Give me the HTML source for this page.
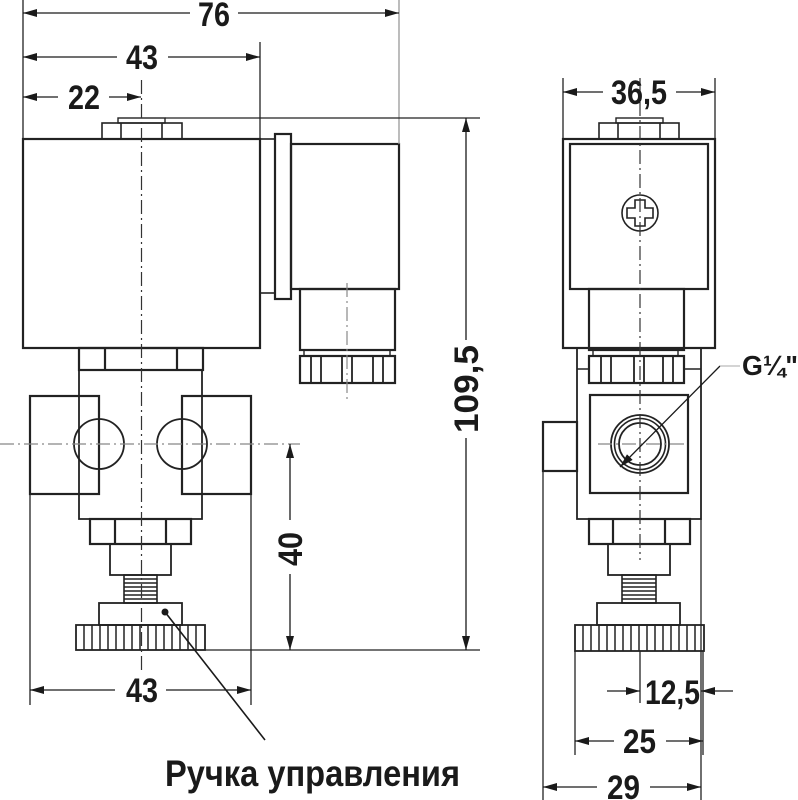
<!DOCTYPE html>
<html><head><meta charset="utf-8"><style>
html,body{margin:0;padding:0;background:#fff}
svg{display:block}
text{font-family:"Liberation Sans Narrow","Liberation Sans",sans-serif;fill:#1a1a1a}
</style></head><body>
<svg width="798" height="800" viewBox="0 0 798 800" xmlns="http://www.w3.org/2000/svg">
<defs>
<marker id="a" viewBox="0 0 14 8" refX="14" refY="4" markerWidth="14" markerHeight="8" markerUnits="userSpaceOnUse" orient="auto-start-reverse">
<path d="M0,0 L14,4 L0,8 z" fill="#1a1a1a"/></marker>
</defs>
<g fill="none" stroke="#222" stroke-width="2.2">
<rect x="23" y="139" width="237" height="209"/>
<rect x="102" y="123" width="80" height="16" stroke-width="1.6"/>
<line x1="121" y1="123" x2="121" y2="139" stroke-width="1.6"/><line x1="162" y1="123" x2="162" y2="139" stroke-width="1.6"/>
<rect x="118" y="118" width="47" height="5" stroke-width="1.4"/>
<rect x="260" y="139" width="15" height="154" stroke-width="1.6"/>
<rect x="275" y="134" width="16" height="165"/>
<rect x="291" y="144" width="108" height="145"/>
<rect x="300" y="289" width="95" height="61"/>
<rect x="304" y="350" width="86" height="6" stroke-width="1.4"/>
<rect x="300" y="356" width="95" height="27"/>
<path d="M311 356V383M321 356V383M342 356V383M352 356V383M373 356V383M383 356V383" stroke-width="1.8"/>
<rect x="79" y="348" width="124" height="22"/>
<path d="M105 348V370M177 348V370"/>
<path d="M79 370V519H202V370" stroke-width="1.8"/>
<rect x="30" y="396" width="69" height="98"/>
<rect x="182" y="396" width="69" height="98"/>
<circle cx="99" cy="444" r="25" stroke-width="1.8"/>
<circle cx="182" cy="444" r="25" stroke-width="1.8"/>
<rect x="90" y="519" width="101" height="25"/>
<path d="M115 519V544M166 519V544"/>
<rect x="110" y="544" width="61" height="31" stroke-width="1.8"/>
<rect x="124" y="575" width="33" height="28" stroke-width="1.6"/>
<path d="M124 579H157M124 583H157M124 587H157M124 591H157M124 595H157M124 599H157" stroke-width="1.4"/>
<rect x="99" y="603" width="83" height="22" stroke-width="1.8"/>
<rect x="76" y="625" width="129" height="25" stroke-width="1.8"/>
<path d="M84 625V650M92 625V650M100 625V650M108 625V650M116 625V650M124 625V650M132 625V650M140 625V650M148 625V650M156 625V650M164 625V650M172 625V650M180 625V650M188 625V650M196 625V650" stroke-width="1.5"/>
<rect x="563" y="139" width="152" height="209"/>
<rect x="570" y="144" width="138" height="145"/>
<rect x="599" y="123" width="80" height="16" stroke-width="1.6"/>
<path d="M618 123V139M660 123V139" stroke-width="1.6"/>
<rect x="616" y="118" width="47" height="5" stroke-width="1.4"/>
<circle cx="640" cy="213" r="18" stroke-width="1.6"/>
<path d="M635 200H645V208H653V218H645V226H635V218H627V208H635Z" stroke-width="1.6"/>
<rect x="589" y="289" width="95" height="61"/>
<rect x="593" y="350" width="85" height="6" stroke-width="1.4"/>
<rect x="589" y="356" width="95" height="27"/>
<path d="M601 356V383M611 356V383M634 356V383M644 356V383M663 356V383M673 356V383" stroke-width="1.8"/>
<path d="M577 348V519H701V348" stroke-width="1.8"/>
<path d="M577 369H589M684 369H701" stroke-width="1.6"/>
<rect x="543" y="422" width="34" height="49"/>
<rect x="590" y="395" width="98" height="98"/>
<circle cx="640" cy="444" r="29" stroke-width="1.8"/>
<circle cx="640" cy="444" r="25.5" stroke-width="1.6"/>
<circle cx="640" cy="444" r="21" stroke-width="1.8"/>
<rect x="589" y="519" width="101" height="25"/>
<path d="M613 519V544M665 519V544"/>
<rect x="608" y="544" width="62" height="31" stroke-width="1.8"/>
<rect x="622" y="575" width="34" height="28" stroke-width="1.6"/>
<path d="M622 579H656M622 583H656M622 587H656M622 591H656M622 595H656M622 599H656" stroke-width="1.4"/>
<rect x="597" y="603" width="83" height="22" stroke-width="1.8"/>
<rect x="575" y="625" width="129" height="26" stroke-width="1.8"/>
<path d="M583 625V651M591 625V651M599 625V651M607 625V651M615 625V651M623 625V651M631 625V651M639 625V651M647 625V651M655 625V651M663 625V651M671 625V651M679 625V651M687 625V651M695 625V651" stroke-width="1.5"/>
</g>
<g stroke="#333" stroke-width="1.2" fill="none" stroke-dasharray="14,4,2,4">
<line x1="141.5" y1="80" x2="141.5" y2="670"/>
<line x1="347" y1="283" x2="347" y2="400" stroke="#888"/>
<line x1="640" y1="78" x2="640" y2="560"/>
<line x1="0" y1="444" x2="300" y2="444" stroke="#888"/>
<line x1="598" y1="444" x2="684" y2="444" stroke="#888"/>
</g>
<g stroke="#222" stroke-width="1.3" fill="none">
<line x1="23" y1="0" x2="23" y2="139"/>
<line x1="260" y1="42" x2="260" y2="139"/>
<line x1="399" y1="0" x2="399" y2="144" stroke="#999"/>
<line x1="165" y1="118" x2="480" y2="118"/>
<line x1="205" y1="650" x2="480" y2="650"/>
<line x1="30" y1="494" x2="30" y2="705"/>
<line x1="251" y1="494" x2="251" y2="705"/>
<line x1="563" y1="78" x2="563" y2="139"/>
<line x1="715" y1="78" x2="715" y2="139"/>
<line x1="543" y1="471" x2="543" y2="800"/>
<line x1="701" y1="519" x2="701" y2="800"/>
<line x1="575" y1="651" x2="575" y2="755"/>
<line x1="703" y1="651" x2="703" y2="755"/>
<line x1="640" y1="651" x2="640" y2="703"/>
</g>
<g stroke="#1a1a1a" stroke-width="1.3" fill="none">
<line x1="23" y1="13" x2="190" y2="13" marker-start="url(#a)"/><line x1="238" y1="13" x2="399" y2="13" marker-end="url(#a)"/>
<line x1="23" y1="57" x2="117" y2="57" marker-start="url(#a)"/><line x1="168" y1="57" x2="260" y2="57" marker-end="url(#a)"/>
<line x1="23" y1="97" x2="58" y2="97" marker-start="url(#a)"/><line x1="109" y1="97" x2="141" y2="97" marker-end="url(#a)"/>
<line x1="563" y1="92" x2="603" y2="92" marker-start="url(#a)"/><line x1="676" y1="92" x2="715" y2="92" marker-end="url(#a)"/>
<line x1="466" y1="118" x2="466" y2="340" marker-start="url(#a)"/><line x1="466" y1="438" x2="466" y2="650" marker-end="url(#a)"/>
<line x1="290" y1="444" x2="290" y2="520" marker-start="url(#a)"/><line x1="290" y1="574" x2="290" y2="650" marker-end="url(#a)"/>
<line x1="30" y1="690" x2="115" y2="690" marker-start="url(#a)"/><line x1="166" y1="690" x2="251" y2="690" marker-end="url(#a)"/>
<line x1="607" y1="691" x2="640" y2="691" marker-end="url(#a)"/><line x1="733" y1="691" x2="701" y2="691" marker-end="url(#a)"/>
<line x1="575" y1="741" x2="614" y2="741" marker-start="url(#a)"/><line x1="666" y1="741" x2="703" y2="741" marker-end="url(#a)"/>
<line x1="543" y1="787" x2="597" y2="787" marker-start="url(#a)"/><line x1="650" y1="787" x2="701" y2="787" marker-end="url(#a)"/>
<line x1="620" y1="467" x2="720" y2="366" marker-start="url(#a)"/>
<line x1="720" y1="366" x2="740" y2="366" stroke="#bbb"/>
<line x1="165" y1="612" x2="265" y2="740" stroke-width="1.6"/>
</g>
<circle cx="165" cy="612" r="3.5" fill="#1a1a1a"/>
<g font-size="34" font-weight="bold">
<text x="198" y="26" textLength="32" lengthAdjust="spacingAndGlyphs">76</text>
<text x="126" y="69" textLength="32" lengthAdjust="spacingAndGlyphs">43</text>
<text x="68" y="109" textLength="32" lengthAdjust="spacingAndGlyphs">22</text>
<text x="611" y="104" textLength="56" lengthAdjust="spacingAndGlyphs">36,5</text>
<text x="126" y="702" textLength="32" lengthAdjust="spacingAndGlyphs">43</text>
<text x="645" y="704" textLength="55" lengthAdjust="spacingAndGlyphs">12,5</text>
<text x="623" y="753" textLength="33" lengthAdjust="spacingAndGlyphs">25</text>
<text x="607" y="799" textLength="33" lengthAdjust="spacingAndGlyphs">29</text>
<text transform="translate(478,433) rotate(-90)" textLength="88" lengthAdjust="spacingAndGlyphs">109,5</text>
<text transform="translate(302,566) rotate(-90)" textLength="34" lengthAdjust="spacingAndGlyphs">40</text>
</g>
<text x="742" y="375" font-size="28" font-weight="bold" textLength="56" lengthAdjust="spacingAndGlyphs">G¼"</text>
<text x="165" y="786" font-size="37" font-weight="bold" textLength="295" lengthAdjust="spacingAndGlyphs">Ручка управления</text>
</svg>
</body></html>
